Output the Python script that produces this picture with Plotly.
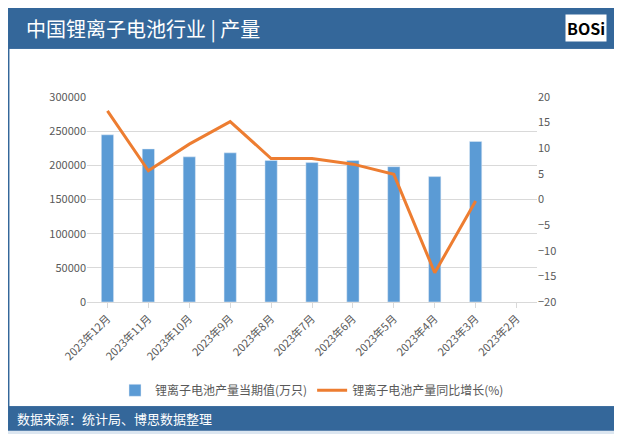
import plotly.graph_objects as go

months = ["2023年12月", "2023年11月", "2023年10月", "2023年9月", "2023年8月", "2023年7月",
          "2023年6月", "2023年5月", "2023年4月", "2023年3月", "2023年2月"]
output = [244700, 224000, 212400, 218300, 207000, 204000, 207000, 198000, 183500, 235000, None]
growth = [17.3, 5.6, 10.8, 15.2, 8.0, 8.0, 6.9, 4.9, -14.3, -0.3, None]

fig = go.Figure()
fig.add_trace(go.Bar(x=months, y=output, name="锂离子电池产量当期值(万只)",
                     marker_color="#5B9BD5", width=0.3))
fig.add_trace(go.Scatter(x=months, y=growth, name="锂离子电池产量同比增长(%)", yaxis="y2",
                         mode="lines", line=dict(color="#ED7D31", width=3)))

blue = "#34679A"
fig.add_shape(type="rect", xref="paper", yref="paper", layer="below",
              x0=-0.174, x1=1.176, y0=-0.512, y1=1.239,
              fillcolor="white", line=dict(color=blue, width=1.5))
fig.add_shape(type="rect", xref="paper", yref="paper", layer="below",
              x0=-0.174, x1=1.176, y0=1.239, y1=1.434,
              fillcolor=blue, line=dict(color=blue, width=1.5))
fig.add_shape(type="rect", xref="paper", yref="paper", layer="below",
              x0=-0.174, x1=1.176, y0=-0.624, y1=-0.512,
              fillcolor=blue, line=dict(color=blue, width=1.5))
fig.add_annotation(text="中国锂离子电池行业 | 产量", xref="paper", yref="paper", x=-0.14, y=1.335,
                   xanchor="left", yanchor="middle", showarrow=False,
                   font=dict(size=20, color="white"))
fig.add_annotation(text="<b>BOSi</b>", xref="paper", yref="paper", x=1.155, y=1.335,
                   xanchor="right", yanchor="middle", showarrow=False, bgcolor="white",
                   font=dict(size=16, color="black"))
fig.add_annotation(text="数据来源：统计局、博思数据整理", xref="paper", yref="paper", x=-0.16, y=-0.568,
                   xanchor="left", yanchor="middle", showarrow=False,
                   font=dict(size=13, color="white"))

fig.update_layout(
    width=614, height=426, margin=dict(l=79, r=85, t=89, b=132, autoexpand=False),
    paper_bgcolor="#DCE6F0", plot_bgcolor="white",
    font=dict(family="Noto Sans CJK SC", size=11, color="#595959"),
    bargap=0.7,
    xaxis=dict(tickangle=-45, showline=True, linecolor="#D9D9D9", ticks="outside",
               tickcolor="#D9D9D9", tickfont=dict(size=11), automargin=False),
    yaxis=dict(range=[0, 300000], dtick=50000, tickformat="d", gridcolor="#D9D9D9",
               zeroline=False, automargin=False),
    yaxis2=dict(range=[-20, 20], dtick=5, overlaying="y", side="right", showgrid=False,
                zeroline=False, automargin=False),
    legend=dict(orientation="h", x=0.5, xanchor="center", y=-0.36, yanchor="top",
                font=dict(size=12), bgcolor="rgba(0,0,0,0)"),
)
fig.write_html("out.html")
